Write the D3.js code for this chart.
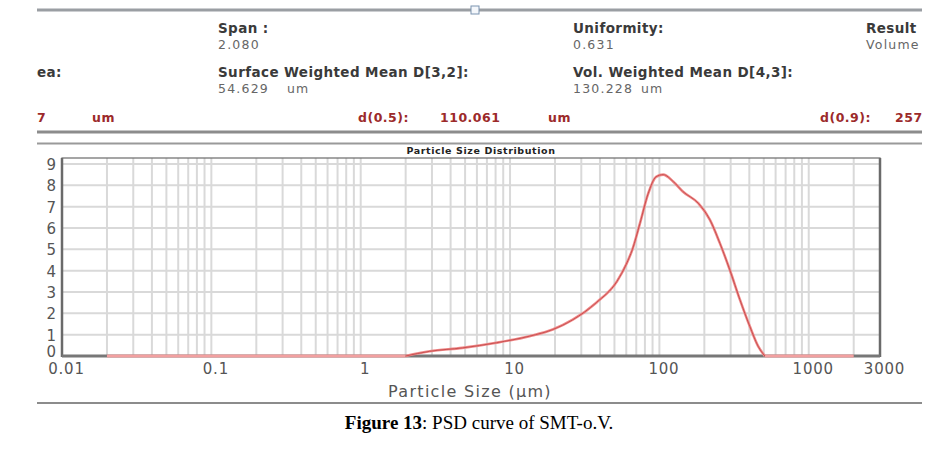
<!DOCTYPE html>
<html><head><meta charset="utf-8">
<script src="https://cdn.jsdelivr.net/npm/d3@7"></script>
<style>
html,body{margin:0;padding:0;background:#fff;}
svg{display:block;}
</style></head>
<body>
<svg id="chart" width="949" height="458"></svg>
<script>
// ---- data ----
const sizes  = [2.0, 2.9, 4.8, 8.1, 13.5, 19.3, 26.3, 37.8, 52, 60, 66, 74, 84, 95, 106, 124, 144, 182, 218, 254, 296, 346, 403, 458, 508];
const volume = [0, 0.22, 0.38, 0.62, 0.93, 1.24, 1.7, 2.5, 3.5, 4.3, 5.0, 6.2, 7.6, 8.4, 8.5, 8.17, 7.7, 7.16, 6.38, 5.29, 4.04, 2.64, 1.39, 0.46, 0];
const zeroLow  = [0.02, 2.0];
const zeroHigh = [508, 2000];
const xTickValues = [0.01, 0.1, 1, 10, 100, 1000, 3000];
const xTickLabels = ["0.01", "0.1", "1", "10", "100", "1000", "3000"];
const yTickValues = [0, 1, 2, 3, 4, 5, 6, 7, 8, 9];
const headerLabels = [
  {t:"Span :", x:218, y:33, k:"lab"}, {t:"2.080", x:218, y:49, k:"val"},
  {t:"Uniformity:", x:573, y:33, k:"lab"}, {t:"0.631", x:573, y:49, k:"val"},
  {t:"Result", x:866, y:33, k:"lab"}, {t:"Volume", x:866, y:49, k:"val"},
  {t:"ea:", x:37, y:77, k:"lab"},
  {t:"Surface Weighted Mean D[3,2]:", x:218, y:77, k:"lab"}, {t:"54.629", x:218, y:93, k:"val"}, {t:"um", x:287, y:93, k:"val"},
  {t:"Vol. Weighted Mean D[4,3]:", x:573, y:77, k:"lab"}, {t:"130.228", x:573, y:93, k:"val"}, {t:"um", x:641, y:93, k:"val"},
  {t:"7", x:37, y:122, k:"red"}, {t:"um", x:92, y:122, k:"red"},
  {t:"d(0.5):", x:358, y:122, k:"red"}, {t:"110.061", x:440, y:122, k:"red"}, {t:"um", x:548, y:122, k:"red"},
  {t:"d(0.9):", x:820, y:122, k:"red"}, {t:"257", x:895, y:122, k:"red"}
];

// ---- layout ----
const svg = d3.select("#chart");
const L = 62, R = 880, T = 158, B = 356;
const x = d3.scaleLog().domain([0.01, 3000]).range([L, R]);
const y = d3.scaleLinear().domain([0, 9.28]).range([B, T]);
const FONT = "DejaVu Sans, Verdana, sans-serif";

// header
const styles = {
  lab: {fill:"#3a3a3a", weight:"bold", size:13.5, ls:0.4},
  val: {fill:"#666", weight:"normal", size:12.5, ls:1.2},
  red: {fill:"#9c2a2a", weight:"bold", size:12.5, ls:0.5}
};
svg.selectAll("text.hdr").data(headerLabels).join("text")
  .attr("class","hdr")
  .attr("x", d=>d.x).attr("y", d=>d.y)
  .attr("font-family", FONT)
  .attr("font-size", d=>styles[d.k].size)
  .attr("font-weight", d=>styles[d.k].weight)
  .attr("letter-spacing", d=>styles[d.k].ls)
  .attr("fill", d=>styles[d.k].fill)
  .text(d=>d.t);

// top separator with handle
svg.append("line").attr("x1",37).attr("x2",922).attr("y1",10).attr("y2",10)
  .attr("stroke","#9a9ea3").attr("stroke-width",3);
svg.append("rect").attr("x",471).attr("y",6).attr("width",8).attr("height",8)
  .attr("fill","#f4f7fb").attr("stroke","#7b93b0").attr("stroke-width",1);

// separators around chart
svg.append("line").attr("x1",37).attr("x2",922).attr("y1",132).attr("y2",132)
  .attr("stroke","#8c8c8c").attr("stroke-width",3);
svg.append("line").attr("x1",37).attr("x2",922).attr("y1",143.5).attr("y2",143.5)
  .attr("stroke","#9a9a9a").attr("stroke-width",2);
svg.append("line").attr("x1",37).attr("x2",922).attr("y1",403).attr("y2",403)
  .attr("stroke","#8c8c8c").attr("stroke-width",2);

// chart title
svg.append("text").attr("x",481).attr("y",154).attr("text-anchor","middle")
  .attr("font-family",FONT).attr("font-size",9.5).attr("font-weight","bold").attr("letter-spacing",0.6)
  .attr("fill","#222").text("Particle Size Distribution");

// grid
const minor = [];
for (let e = -2; e <= 3; e++) for (let m = 1; m <= 9; m++) {
  const v = m * Math.pow(10, e);
  if (v > 0.01 && v < 3000) minor.push(v);
}
const g = svg.append("g");
g.selectAll("line.vg").data(minor).join("line").attr("class","vg")
  .attr("x1", d=>x(d)).attr("x2", d=>x(d)).attr("y1", T).attr("y2", B)
  .attr("stroke","#d9d9d9").attr("stroke-width",2);
g.selectAll("line.hg").data(yTickValues.filter(v=>v>0)).join("line").attr("class","hg")
  .attr("x1", L).attr("x2", R).attr("y1", d=>y(d)).attr("y2", d=>y(d))
  .attr("stroke","#d9d9d9").attr("stroke-width",2);

// frame
svg.append("rect").attr("x",L).attr("y",T).attr("width",R-L).attr("height",B-T)
  .attr("fill","none").attr("stroke","#6a6a6a").attr("stroke-width",1.2);
svg.append("line").attr("x1",L).attr("x2",L).attr("y1",T).attr("y2",B+1)
  .attr("stroke","#6a6a6a").attr("stroke-width",2.5);
svg.append("line").attr("x1",R).attr("x2",R).attr("y1",T).attr("y2",B+1)
  .attr("stroke","#6a6a6a").attr("stroke-width",2.5);
svg.append("line").attr("x1",L).attr("x2",R).attr("y1",B).attr("y2",B)
  .attr("stroke","#777").attr("stroke-width",3);

// axes labels
const yAxis = d3.axisLeft(y).tickValues(yTickValues).tickSize(0).tickPadding(0).tickFormat(d3.format("d"));
const ya = svg.append("g").attr("transform",`translate(${L-6},0)`).call(yAxis);
ya.select(".domain").remove();
ya.selectAll("text").attr("font-family",FONT).attr("font-size",15)
  .attr("fill","#555").attr("dy", d => d === 0 ? "0.05em" : "0.36em");

const xAxis = d3.axisBottom(x).tickValues(xTickValues).tickSize(0).tickPadding(0)
  .tickFormat((d,i)=>xTickLabels[i]);
const xa = svg.append("g").attr("transform",`translate(4,${B+7})`).call(xAxis);
xa.select(".domain").remove();
xa.selectAll("text").attr("font-family",FONT).attr("font-size",15).attr("letter-spacing",0.8)
  .attr("fill","#555");

svg.append("text").attr("x",470).attr("y",397).attr("text-anchor","middle")
  .attr("font-family",FONT).attr("font-size",16).attr("letter-spacing",1.3)
  .attr("fill","#555").text("Particle Size (µm)");

// zero segments
const zl = d3.line().x(d=>x(d)).y(()=>y(0));
svg.append("path").attr("d", zl(zeroLow)).attr("fill","none").attr("stroke","#f2a0a0").attr("stroke-width",3);
svg.append("path").attr("d", zl(zeroHigh)).attr("fill","none").attr("stroke","#f2a0a0").attr("stroke-width",3);

// curve
const pts = sizes.map((s,i)=>[s, volume[i]]);
const line = d3.line().x(d=>x(d[0])).y(d=>y(d[1])).curve(d3.curveMonotoneX);
svg.append("path").attr("d", line(pts)).attr("fill","none")
  .attr("stroke","#f08a8a").attr("stroke-width",2.6);
svg.append("path").attr("d", line(pts)).attr("fill","none")
  .attr("stroke","#c85050").attr("stroke-width",1);

// caption
const cap = svg.append("text").attr("x",479).attr("y",429).attr("text-anchor","middle")
  .attr("font-family","Liberation Serif, Times New Roman, serif").attr("font-size",19).attr("fill","#000");
cap.append("tspan").attr("font-weight","bold").text("Figure 13");
cap.append("tspan").text(": PSD curve of SMT-o.V.");
</script>
</body></html>
